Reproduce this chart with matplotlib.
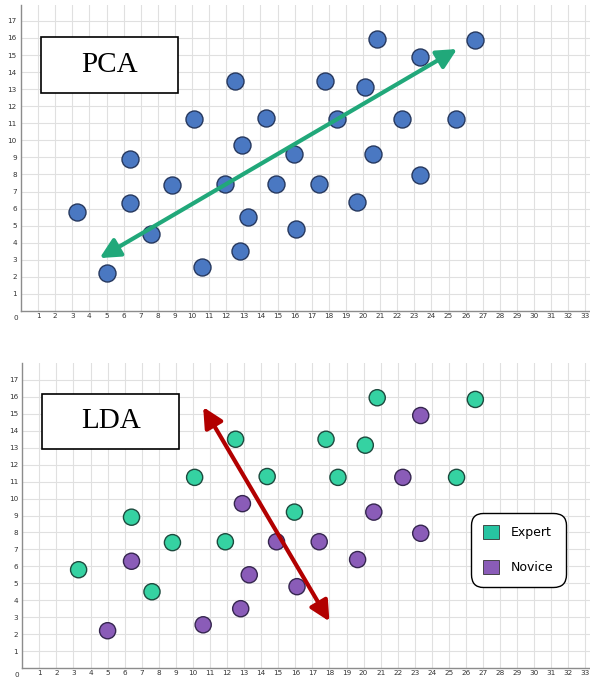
import matplotlib
matplotlib.use('Agg')
import matplotlib.pyplot as plt
from matplotlib.patches import Rectangle, FancyArrowPatch, Patch
import numpy as np

# points (same positions in both panels)
xs = [3.3, 5.0, 6.4, 6.4, 7.6, 8.8, 10.1, 10.6, 11.9, 12.5, 12.9, 12.8, 13.3, 14.35, 14.9,
      15.95, 16.1, 20.8, 26.55, 23.35, 17.8, 20.1, 18.5, 22.3, 25.45, 20.6, 17.4, 23.35, 19.65]
ys = [5.8, 2.2, 8.9, 6.3, 4.5, 7.4, 11.25, 2.55, 7.45, 13.5, 9.7, 3.5, 5.5, 11.3, 7.45,
      9.2, 4.8, 15.95, 15.85, 14.9, 13.5, 13.15, 11.25, 11.25, 11.25, 9.2, 7.45, 7.95, 6.4]
# E = expert, N = novice
group = ['E', 'N', 'E', 'N', 'E', 'E', 'E', 'N', 'E', 'E', 'N', 'N', 'N', 'E', 'N',
         'E', 'N', 'E', 'E', 'N', 'E', 'E', 'E', 'N', 'E', 'N', 'N', 'N', 'N']

pca_axis = [(4.6, 3.1), (25.5, 15.35)]
lda_axis = [(10.6, 15.4), (18.0, 2.75)]

xticks = list(range(1, 34))
yticks = list(range(1, 18))

blue, blue_edge = '#4a78c2', '#26385e'
teal, teal_edge = '#35d2a2', '#1d4a3e'
purple, purple_edge = '#8a5cb8', '#35264f'

fig = plt.figure(figsize=(5.9, 6.78), dpi=100)
ax1 = fig.add_axes((21/590, (678-311)/678, 569/590, 306/678))
ax2 = fig.add_axes((22.3/590, 10/678, 567.7/590, 305/678))


def setup(ax, ytop):
    ax.set_xlim(0, 33.27)
    ax.set_ylim(0, ytop)
    ax.set_xticks(xticks)
    ax.set_yticks(yticks)
    ax.tick_params(length=0, labelsize=5.2, labelcolor='#333333')
    ax.tick_params(axis='x', pad=1.5)
    ax.tick_params(axis='y', pad=3)
    ax.grid(True, color='#e0e0e0', lw=0.8)
    ax.set_axisbelow(True)
    for s in ['top', 'right']:
        ax.spines[s].set_visible(False)
    for s in ['left', 'bottom']:
        ax.spines[s].set_color('#8c8c8c')
        ax.spines[s].set_linewidth(1.0)
    ax.annotate('0', (0, 0), xytext=(-4, -5), textcoords='offset points',
                ha='center', va='center', fontsize=5.2, color='#333333',
                annotation_clip=False)


def title_box(ax, label, y0, y1):
    ax.add_patch(Rectangle((1.15, y0), 8.05, y1 - y0, fc='white', ec='black',
                           lw=1.2, zorder=4))
    ax.text(5.18, (y0 + y1) / 2, label, ha='center', va='center', fontsize=21,
            family='Liberation Serif', zorder=5)


setup(ax1, 17.93)
setup(ax2, 18.0)

arrow_style = '<|-|>,head_length=1.0,head_width=0.5'

# PCA panel
ax1.scatter(xs, ys, s=150, c=blue, edgecolors=blue_edge, linewidths=1.0, zorder=3)
ax1.add_patch(FancyArrowPatch(pca_axis[0], pca_axis[1], arrowstyle=arrow_style,
                              mutation_scale=12, color='#21a87a', lw=3.0, zorder=6,
                              shrinkA=0, shrinkB=0))
title_box(ax1, 'PCA', 12.8, 16.07)

# LDA panel
cols = [teal if g == 'E' else purple for g in group]
edges = [teal_edge if g == 'E' else purple_edge for g in group]
ax2.scatter(xs, ys, s=135, c=cols, edgecolors=edges, linewidths=1.0, zorder=3)
ax2.add_patch(FancyArrowPatch(lda_axis[0], lda_axis[1], arrowstyle=arrow_style,
                              mutation_scale=12, color='#b20000', lw=3.0, zorder=6,
                              shrinkA=0, shrinkB=0))
title_box(ax2, 'LDA', 12.9, 16.2)

handles = [Patch(fc='#27c4a2', ec='#333333', lw=0.6, label='Expert'),
           Patch(fc=purple, ec='#333333', lw=0.6, label='Novice')]
leg = ax2.legend(handles=handles, loc='upper left',
                 bbox_to_anchor=((470.7-22.3)/567.7, (668-512.7)/305),
                 fontsize=9, handlelength=1.3, handleheight=1.3, labelspacing=1.7,
                 borderpad=1.0, handletextpad=0.9, borderaxespad=0,
                 frameon=True, fancybox=True, shadow=False)
fr = leg.get_frame()
fr.set_edgecolor('black')
fr.set_linewidth(1.0)
fr.set_boxstyle('round,pad=0,rounding_size=1.0')
fr.set_alpha(1)

fig.savefig('out.png', dpi=100)
